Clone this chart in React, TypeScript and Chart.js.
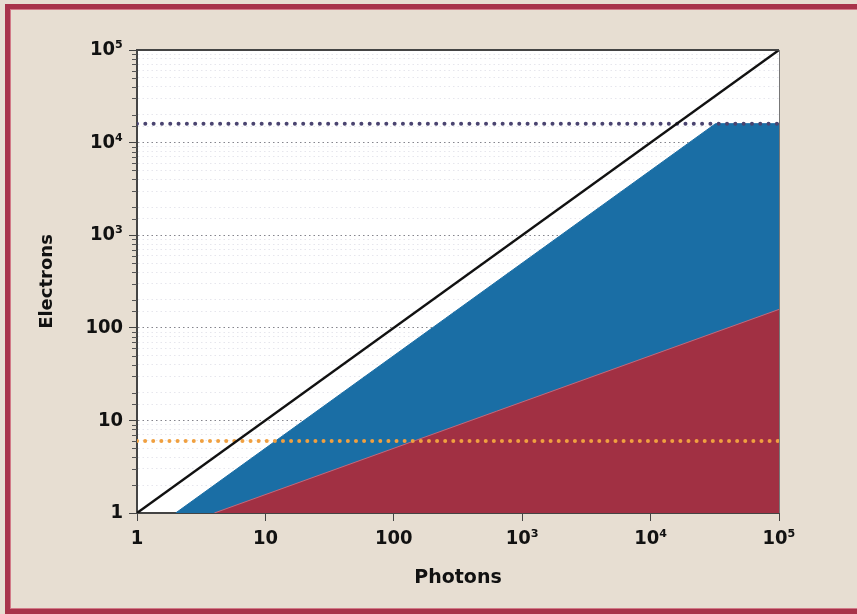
import React, { useEffect, useRef } from "react";
import { Chart, registerables } from "chart.js";

Chart.register(...registerables);

// ---- data ----
const diagonalX = [1, 100000];
const diagonalY = [1, 100000];
const blueX = [2, 32000, 100000];
const blueY = [1, 16000, 16000];
const redX = [4, 100000];
const redY = [1, 158];
const fullWellLevel = 16000; // navy dotted line
const noiseFloorLevel = 6; // orange dotted line
const lineSpanX = [1, 100000];
const decadeLabels: Record<number, string> = {
  1: "1",
  10: "10",
  100: "100",
  1000: "10³",
  10000: "10⁴",
  100000: "10⁵",
};

const BG = "#e7ded2";
const BORDER = "#a8334a";
const BLUE = "#1a6ea5";
const CRIMSON = "#a13043";
const NAVY = "#4a4470";
const ORANGE = "#f0a040";

const zip = (xs: number[], ys: number[]) => xs.map((x, i) => ({ x, y: ys[i] }));
const isDecade = (v: number) => Math.abs(Math.log10(v) - Math.round(Math.log10(v))) < 1e-9;

const framePlugin = {
  id: "frame",
  beforeDraw(chart: any) {
    const { ctx, chartArea: a } = chart;
    ctx.save();
    ctx.fillStyle = "#ffffff";
    ctx.fillRect(a.left, a.top, a.right - a.left, a.bottom - a.top);
    ctx.restore();
  },
  afterDraw(chart: any) {
    const { ctx, chartArea: a } = chart;
    const y = chart.scales.y;
    ctx.save();
    // minor ticks on y axis
    ctx.strokeStyle = "#555";
    ctx.lineWidth = 1;
    y.ticks.forEach((t: any) => {
      if (isDecade(t.value)) return;
      const py = Math.round(y.getPixelForValue(t.value)) + 0.5;
      ctx.beginPath();
      ctx.moveTo(a.left - 5, py);
      ctx.lineTo(a.left, py);
      ctx.stroke();
    });
    // top and right frame
    ctx.strokeStyle = "#444";
    ctx.lineWidth = 2;
    ctx.beginPath();
    ctx.moveTo(a.left, a.top);
    ctx.lineTo(a.right, a.top);
    ctx.stroke();
    ctx.strokeStyle = "#777";
    ctx.lineWidth = 1;
    ctx.beginPath();
    ctx.moveTo(a.right + 0.5, a.top);
    ctx.lineTo(a.right + 0.5, a.bottom);
    ctx.stroke();
    ctx.restore();
  },
};

export default function App() {
  const ref = useRef<HTMLCanvasElement>(null);
  useEffect(() => {
    if (!ref.current) return;
    const tickFont = { family: "'DejaVu Sans Condensed', 'DejaVu Sans', sans-serif", size: 20, weight: "bold" as const };
    const titleFont = { family: "'DejaVu Sans', sans-serif", size: 18, weight: "bold" as const };
    const chart = new Chart(ref.current, {
      type: "scatter",
      data: {
        datasets: [
          {
            data: zip(diagonalX, diagonalY),
            showLine: true,
            borderColor: "#111",
            borderWidth: 2.4,
            pointRadius: 0,
            fill: false,
          },
          {
            data: zip(lineSpanX, [fullWellLevel, fullWellLevel]),
            showLine: true,
            borderColor: NAVY,
            borderWidth: 4,
            borderDash: [0.01, 8.3],
            borderCapStyle: "round",
            pointRadius: 0,
            fill: false,
          },
          {
            data: zip(lineSpanX, [noiseFloorLevel, noiseFloorLevel]),
            showLine: true,
            borderColor: ORANGE,
            borderWidth: 4,
            borderDash: [0.01, 8.1],
            borderCapStyle: "round",
            pointRadius: 0,
            fill: false,
          },
          {
            data: zip(redX, redY),
            showLine: true,
            borderColor: "#c4687a",
            borderWidth: 1,
            backgroundColor: CRIMSON,
            pointRadius: 0,
            fill: "start",
          },
          {
            data: zip(blueX, blueY),
            showLine: true,
            borderColor: BLUE,
            borderWidth: 1,
            backgroundColor: BLUE,
            pointRadius: 0,
            fill: "start",
          },
        ],
      } as any,
      options: {
        animation: false,
        responsive: false,
        maintainAspectRatio: false,
        layout: { padding: { top: 50, right: 78, left: 0, bottom: 0 } },
        plugins: { legend: { display: false }, tooltip: { enabled: false } },
        scales: {
          x: {
            type: "logarithmic",
            min: 1,
            max: 100000,
            z: 1,
            afterFit: (s: any) => {
              s.height = 101;
            },
            border: { display: true, color: "#444", width: 2 },
            grid: {
              drawOnChartArea: false,
              tickLength: 8,
              tickColor: (c: any) => (c.tick && isDecade(c.tick.value) ? "#444" : "transparent"),
              tickWidth: 1,
            },
            ticks: {
              autoSkip: false,
              maxRotation: 0,
              padding: 6,
              color: "#111",
              font: tickFont,
              callback: (v: any) => decadeLabels[Number(v)] ?? "",
            },
            title: {
              display: true,
              text: "Photons",
              color: "#111",
              font: { ...titleFont, size: 19 },
              padding: { top: 0, bottom: 25 },
            },
          },
          y: {
            type: "logarithmic",
            min: 1,
            max: 100000,
            afterFit: (s: any) => {
              s.width = 137;
            },
            border: { display: true, color: "#444", width: 2, dash: [1.5, 3] },
            grid: {
              drawOnChartArea: true,
              tickLength: 8,
              color: (c: any) =>
                c.tick && isDecade(c.tick.value) ? "rgba(110,110,120,0.85)" : "rgba(200,200,215,0.45)",
              tickColor: (c: any) => (c.tick && isDecade(c.tick.value) ? "#444" : "transparent"),
              tickBorderDash: [],
              tickWidth: 1,
              lineWidth: 1,
            },
            ticks: {
              autoSkip: false,
              padding: 6,
              color: "#111",
              font: tickFont,
              callback: (v: any) => decadeLabels[Number(v)] ?? "",
            },
            title: {
              display: true,
              text: "Electrons",
              color: "#111",
              font: titleFont,
              padding: { top: 37, bottom: 0 },
            },
          },
        },
      } as any,
      plugins: [framePlugin],
    });
    return () => chart.destroy();
  }, []);

  return (
    <div style={{ position: "fixed", left: 0, top: 0, width: 857, height: 614, background: BG, overflow: "hidden" }}>
      <div
        style={{
          position: "absolute",
          left: 5,
          top: 4,
          width: 880,
          height: 610,
          boxSizing: "border-box",
          border: `5px solid ${BORDER}`,
          boxShadow: "inset 0 0 0 1px #d27a88",
        }}
      />
      <canvas ref={ref} width={857} height={614} style={{ position: "absolute", left: 0, top: 0 }} />
    </div>
  );
}
